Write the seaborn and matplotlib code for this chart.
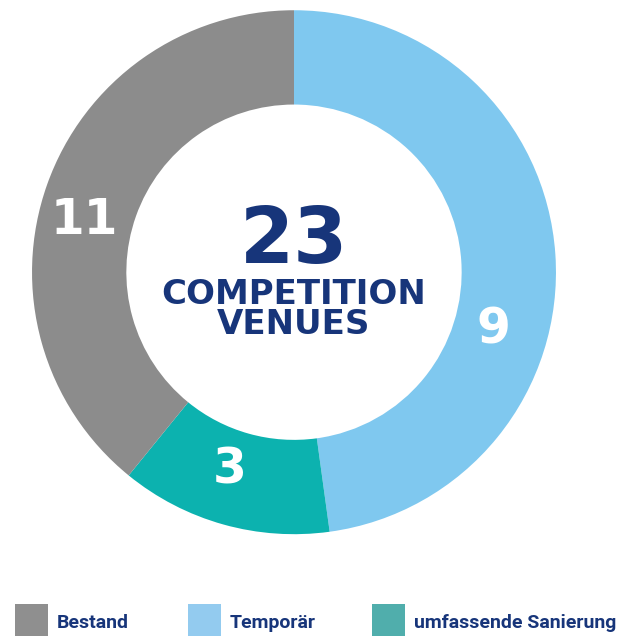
import matplotlib
matplotlib.use("Agg")
import matplotlib.pyplot as plt
import seaborn as sns
from matplotlib.patches import Rectangle

# Daten (aus dem Bild gelesen)
segments = ["Temporär", "umfassende Sanierung", "Bestand"]
arc_share = [11, 3, 9]            # Bogenlänge der Ringsegmente (wie gezeichnet)
value_labels = ["9", "3", "11"]   # Zahlen, die im Ring stehen
total_label = "23"
center_text = ["COMPETITION", "VENUES"]
legend_order = ["Bestand", "Temporär", "umfassende Sanierung"]

sns.set_theme(style="white")
plt.rcParams['font.family'] = ['DejaVu Sans']

ring_colors = {"Temporär": "#7fc8ef", "umfassende Sanierung": "#0cb2af", "Bestand": "#8c8c8c"}
legend_colors = {"Temporär": "#93cbef", "umfassende Sanierung": "#50aeac", "Bestand": "#8f8f8f"}
navy = "#17357a"

W, H = 623, 636
fig = plt.figure(figsize=(W / 100, H / 100), dpi=100)
ax = fig.add_axes([0.0514, 0.160, 0.841, 0.824])

ax.pie(arc_share, colors=[ring_colors[s] for s in segments],
       startangle=90, counterclock=False, radius=1.0,
       wedgeprops=dict(width=0.36, linewidth=0))
ax.set_xlim(-1, 1)
ax.set_ylim(-1, 1)
ax.set_aspect("equal")
ax.axis("off")

# Zahlen im Ring
label_pos = [(0.76, -0.22), (-0.245, -0.755), (-0.80, 0.20)]
for txt, (x, y) in zip(value_labels, label_pos):
    ax.text(x, y, txt, color="white", fontsize=35, fontweight="heavy",
            ha="center", va="center")

# Mitte
ax.text(0.0, 0.12, total_label, color=navy, fontsize=56, fontweight="heavy",
        ha="center", va="center")
ax.text(0.0, -0.085, center_text[0], color=navy, fontsize=24.5, fontweight="heavy",
        ha="center", va="center")
ax.text(0.0, -0.2, center_text[1], color=navy, fontsize=24.5, fontweight="heavy",
        ha="center", va="center")

# Legende unten (von Hand gesetzt)
box_x = [15, 188, 372]
for name, x0 in zip(legend_order, box_x):
    fig.add_artist(Rectangle((x0 / W, 0), 33 / W, 32 / H, transform=fig.transFigure,
                             facecolor=legend_colors[name], edgecolor="none"))
    fig.text((x0 + 42) / W, 13 / H, name, color=navy, fontsize=14, fontweight="bold",
             family=['Roboto', 'DejaVu Sans'], ha="left", va="center")

fig.savefig("out.png", dpi=100, facecolor="white")
